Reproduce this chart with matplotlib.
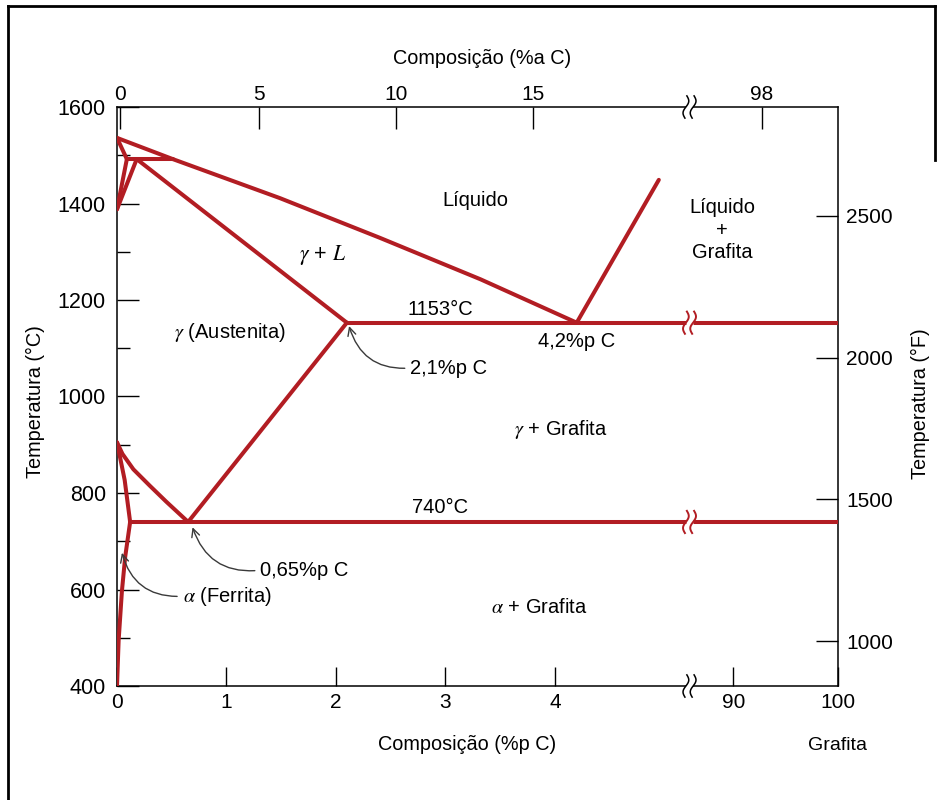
import numpy as np
import matplotlib
matplotlib.use('Agg')
import matplotlib.pyplot as plt
import matplotlib.transforms as mtransforms
from matplotlib.lines import Line2D
from matplotlib import font_manager

# Diagrama Fe-C (ferro-grafita), valores lidos da figura
# linha liquidus (lado do ferro)
liquidus_wt = [0.0, 0.51, 1.49, 2.40, 3.32, 4.2]
liquidus_T = [1536, 1492, 1411, 1329, 1243, 1153]
# regiao delta
delta_sol_wt = [0.0, 0.09]
delta_sol_T = [1536, 1492]
delta_a_wt = [0.0, 0.09]
delta_a_T = [1388, 1492]
delta_b_wt = [0.0, 0.18]
delta_b_T = [1388, 1492]
peritet_wt = [0.09, 0.51]
peritet_T = [1493, 1493]
# solidus da austenita
solidus_wt = [0.18, 2.1]
solidus_T = [1492, 1153]
# liquidus da grafita
liq_graf_wt = [4.2, 4.95]
liq_graf_T = [1153, 1449]
# linha Acm
acm_wt = [2.1, 0.65]
acm_T = [1153, 740]
# linha A3
a3_wt = [0.0, 0.05, 0.15, 0.30, 0.45, 0.65]
a3_T = [905, 881, 849, 815, 782, 740]
# fronteira da ferrita
ferr_wt = [0.0, 0.07, 0.12, 0.075, 0.045, 0.015, 0.0]
ferr_T = [905, 827, 740, 668, 597, 495, 400]
# isotermas
eutetico_wt = [2.1, 100]
eutetico_T = [1153, 1153]
eutetoide_wt = [0.12, 100]
eutetoide_T = [740, 740]

# eixos
temp_ticks = [400, 600, 800, 1000, 1200, 1400, 1600]
temp_minor = [500, 700, 900, 1100, 1300, 1500]
wt_ticks = [0, 1, 2, 3, 4, 90, 100]
at_ticks = [0, 5, 10, 15, 98]
at_tick_wt = [0.03, 1.30, 2.55, 3.80, 92.7]
f_ticks = [1000, 1500, 2000, 2500]
f_lim = (842, 2884)

RED = '#b21d23'

# escala com quebra entre ~5,2 e ~86 %p
BRK_LO, BRK_HI, SQ, EPS = 5.23, 85.8, 0.0955, 1e-3


def fwd(w):
    w = np.asarray(w, float)
    mid = BRK_LO + (w - BRK_LO) * EPS / (BRK_HI - BRK_LO)
    hi = BRK_LO + EPS + (w - BRK_HI) * SQ
    return np.where(w <= BRK_LO, w, np.where(w >= BRK_HI, hi, mid))


def inv(u):
    u = np.asarray(u, float)
    mid = BRK_LO + (u - BRK_LO) * (BRK_HI - BRK_LO) / EPS
    hi = BRK_HI + (u - BRK_LO - EPS) / SQ
    return np.where(u <= BRK_LO, u, np.where(u >= BRK_LO + EPS, hi, mid))


nomes = {f.name for f in font_manager.fontManager.ttflist}
if 'Liberation Sans Narrow' in nomes:
    fonte_tit, tam_tit = 'Liberation Sans Narrow', 16.5
else:
    fonte_tit, tam_tit = 'Liberation Sans', 14.3

plt.rcParams['font.family'] = ['Liberation Sans', 'DejaVu Sans']
plt.rcParams['mathtext.fontset'] = 'stix'

fig = plt.figure(figsize=(9.41, 8), dpi=100)
ax = fig.add_axes([117 / 941, 1 - 686 / 800, 721 / 941, 579 / 800])
ax.set_xscale('function', functions=(fwd, inv))

kw = dict(color=RED, lw=2.9, solid_joinstyle='round', solid_capstyle='round', zorder=3)
ax.plot(liquidus_wt, liquidus_T, **kw)
ax.plot(delta_sol_wt, delta_sol_T, **kw)
ax.plot(delta_a_wt, delta_a_T, **kw)
ax.plot(delta_b_wt, delta_b_T, **kw)
ax.plot(peritet_wt, peritet_T, **kw)
ax.plot(solidus_wt, solidus_T, **kw)
ax.plot(liq_graf_wt, liq_graf_T, **kw)
ax.plot(acm_wt, acm_T, **kw)
ax.plot(a3_wt, a3_T, **kw)
ax.plot(ferr_wt, ferr_T, **kw)
ax.plot(eutetico_wt, eutetico_T, color=RED, lw=2.9, zorder=3)
ax.plot(eutetoide_wt, eutetoide_T, color=RED, lw=2.9, zorder=3)


def quebra(x, y, color, trans, gap_lw, lw):
    base = (mtransforms.Affine2D().scale(1 / 72) + fig.dpi_scale_trans
            + mtransforms.ScaledTranslation(x, y, trans))
    t = np.linspace(-1, 1, 40)
    ax.plot([-2.6, 2.6], [0, 0], color='white', lw=gap_lw, transform=base,
            clip_on=False, zorder=6, solid_capstyle='butt')
    for s in (-2.6, 2.6):
        ax.plot(s + 1.7 * np.sin(np.pi * t) + 0.7 * t, 8.0 * t, color=color,
                lw=lw, transform=base, clip_on=False, zorder=7)


xb = inv(BRK_LO + EPS / 2)
eixo_trans = mtransforms.blended_transform_factory(ax.transData, ax.transAxes)
quebra(xb, 1153, RED, ax.transData, 5, 1.4)
quebra(xb, 740, RED, ax.transData, 5, 1.4)
quebra(xb, 0, 'black', eixo_trans, 3, 1.1)
quebra(xb, 1, 'black', eixo_trans, 3, 1.1)

fs = 14.5
ax.text(3.27, 1407, 'Líquido', ha='center', va='center', fontsize=fs)
ax.text(88.9, 1345, 'Líquido\n+\nGrafita', ha='center', va='center',
        multialignment='center', fontsize=fs, linespacing=1.25)
ax.text(1.88, 1293, r'$\gamma$ + $L$', ha='center', va='center', fontsize=fs + 1)
ax.text(1.03, 1132, r'$\gamma$ (Austenita)', ha='center', va='center', fontsize=fs)
ax.text(2.95, 1181, '1153°C', ha='center', va='center', fontsize=fs)
ax.text(4.2, 1115, '4,2%p C', ha='center', va='center', fontsize=fs)
ax.text(4.05, 931, r'$\gamma$ + Grafita', ha='center', va='center', fontsize=fs)
ax.text(2.95, 769, '740°C', ha='center', va='center', fontsize=fs)
ax.text(3.86, 562, r'$\alpha$ + Grafita', ha='center', va='center', fontsize=fs)

seta = dict(arrowstyle='->', color='#3a3a3a', lw=1.0,
            connectionstyle='arc3,rad=-0.4', shrinkA=2, shrinkB=0, relpos=(0, 0.5))
ax.annotate('2,1%p C', xy=(2.12, 1146), xytext=(2.68, 1059), ha='left',
            va='center', fontsize=fs, arrowprops=seta)
ax.annotate('0,65%p C', xy=(0.69, 729), xytext=(1.31, 640), ha='left',
            va='center', fontsize=fs, arrowprops=seta)
ax.annotate(r'$\alpha$ (Ferrita)', xy=(0.045, 676), xytext=(0.60, 586), ha='left',
            va='center', fontsize=fs, arrowprops=seta)

# eixo inferior e esquerdo
ax.set_xlim(0, 100)
ax.set_ylim(400, 1600)
ax.set_xticks(wt_ticks)
ax.set_xticklabels([str(v) for v in wt_ticks])
ax.set_yticks(temp_ticks)
ax.set_yticks(temp_minor, minor=True)
ax.tick_params(axis='x', which='both', direction='in', length=14, width=1.0,
               labelsize=15, pad=5, top=False)
ax.tick_params(axis='y', which='major', direction='in', length=16, width=1.0,
               labelsize=15.5, pad=8, right=False)
ax.tick_params(axis='y', which='minor', direction='in', length=9.5, width=1.0, right=False)
ax.xaxis.set_minor_locator(matplotlib.ticker.NullLocator())
for sp in ax.spines.values():
    sp.set_linewidth(1.1)
ax.text(100, -0.102, 'Grafita', transform=eixo_trans, ha='center', va='center', fontsize=14)

# eixo superior (%a C)
axt = ax.twiny()
axt.set_xscale('function', functions=(fwd, inv))
axt.set_xlim(0, 100)
axt.set_xticks(at_tick_wt)
axt.set_xticklabels([str(v) for v in at_ticks])
axt.xaxis.set_minor_locator(matplotlib.ticker.NullLocator())
axt.tick_params(axis='x', direction='in', length=16, width=1.0, labelsize=15, pad=2)
for sp in axt.spines.values():
    sp.set_visible(False)

# eixo direito (F)
axr = ax.twinx()
axr.set_ylim(*f_lim)
axr.set_yticks(f_ticks)
axr.tick_params(axis='y', direction='in', length=16, width=1.0, labelsize=15, pad=6)
for sp in axr.spines.values():
    sp.set_visible(False)

fig.text(482 / 941, 1 - 58 / 800, 'Composição (%a C)', ha='center', va='center',
         family=fonte_tit, fontsize=tam_tit)
fig.text(467 / 941, 1 - 744 / 800, 'Composição (%p C)', ha='center', va='center',
         family=fonte_tit, fontsize=tam_tit)
fig.text(35.5 / 941, 1 - 402 / 800, 'Temperatura (°C)', ha='center', va='center',
         rotation=90, family=fonte_tit, fontsize=tam_tit)
fig.text(920 / 941, 1 - 404 / 800, 'Temperatura (°F)', ha='center', va='center',
         rotation=90, family=fonte_tit, fontsize=tam_tit)

# moldura da figura
fig.add_artist(Line2D([8 / 941, 8 / 941], [0, 1 - 6 / 800], color='black', lw=2,
                      transform=fig.transFigure))
fig.add_artist(Line2D([8 / 941, 935 / 941], [1 - 6 / 800, 1 - 6 / 800], color='black',
                      lw=2, transform=fig.transFigure))
fig.add_artist(Line2D([935 / 941, 935 / 941], [1 - 6 / 800, 1 - 160 / 800], color='black',
                      lw=2, transform=fig.transFigure))

fig.savefig('out.png', dpi=100)
